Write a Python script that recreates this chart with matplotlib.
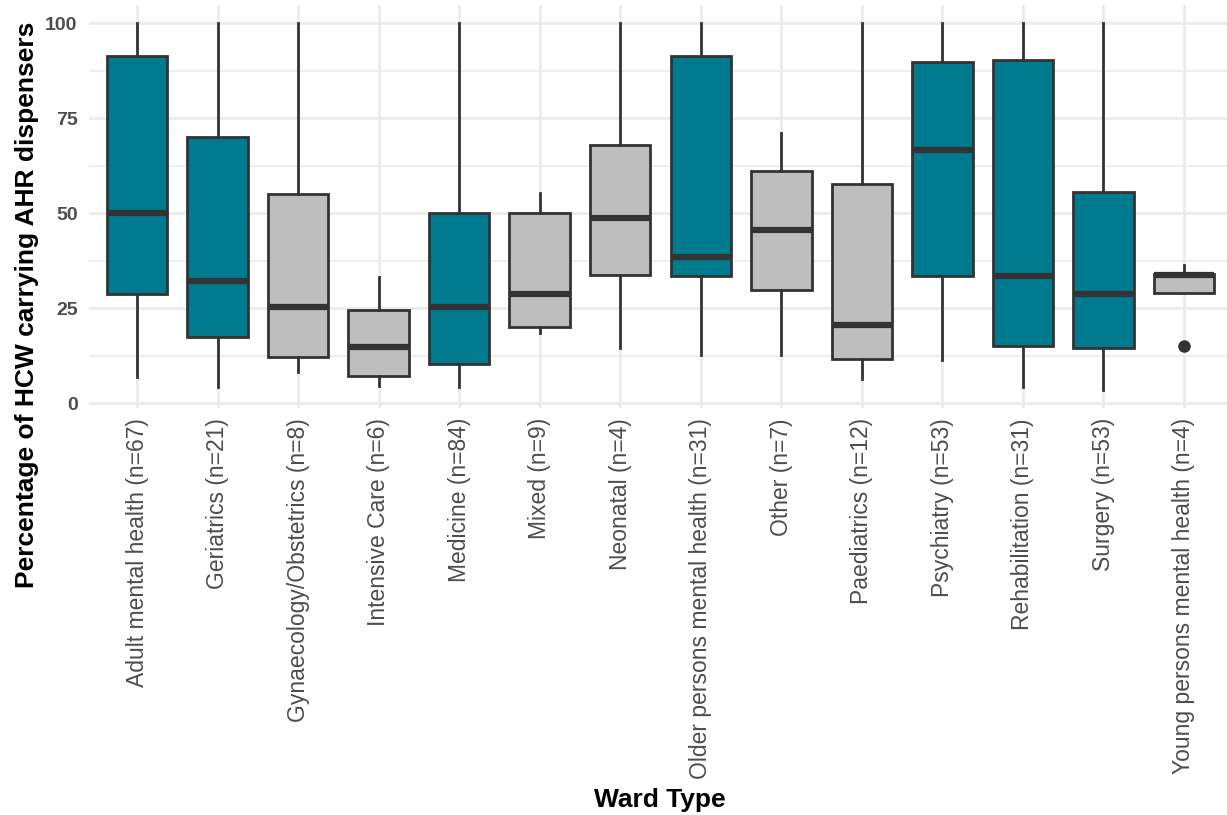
import matplotlib
matplotlib.use("Agg")
import matplotlib.pyplot as plt

plt.rcParams['font.family'] = ['Liberation Sans', 'DejaVu Sans']

categories = ["Adult mental health (n=67)", "Geriatrics (n=21)", "Gynaecology/Obstetrics (n=8)",
              "Intensive Care (n=6)", "Medicine (n=84)", "Mixed (n=9)", "Neonatal (n=4)",
              "Older persons mental health (n=31)", "Other (n=7)", "Paediatrics (n=12)",
              "Psychiatry (n=53)", "Rehabilitation (n=31)", "Surgery (n=53)",
              "Young persons mental health (n=4)"]
whisker_low = [7.0, 4.2, 8.1, 4.6, 4.2, 18.6, 14.5, 12.7, 12.7, 6.3, 11.4, 4.2, 3.5, 28.9]
q1 =          [28.8, 17.5, 12.3, 7.3, 10.3, 20.2, 33.7, 33.5, 29.8, 11.6, 33.5, 15.2, 14.5, 28.9]
median =      [50.0, 32.2, 25.4, 14.9, 25.3, 28.8, 48.7, 38.6, 45.6, 20.6, 66.7, 33.5, 28.7, 33.7]
q3 =          [91.4, 70.2, 55.1, 24.6, 50.0, 50.0, 67.9, 91.5, 61.2, 57.6, 89.9, 90.3, 55.5, 34.0]
whisker_high = [100, 100, 100, 33.3, 100, 55.4, 100, 100, 71.2, 100, 100, 100, 100, 36.4]
outliers = [[], [], [], [], [], [], [], [], [], [], [], [], [], [15.2]]
large_group = [True, True, False, False, True, False, False, True, False, False, True, True, True, False]

TEAL = "#007A8E"
GREY = "#BEBEBE"
EDGE = "#333333"

fig = plt.figure(figsize=(12.27, 8.15), dpi=100)
ax = fig.add_axes([88.7 / 1227, 1 - 408.3 / 815, (1232.3 - 88.7) / 1227, (408.3 - 5) / 815])

stats = []
for i in range(len(categories)):
    stats.append(dict(whislo=whisker_low[i], q1=q1[i], med=median[i], q3=q3[i],
                      whishi=whisker_high[i], fliers=outliers[i], label=categories[i]))

positions = list(range(1, len(categories) + 1))
bp = ax.bxp(stats, positions=positions, widths=0.75, patch_artist=True, showcaps=False,
            boxprops=dict(edgecolor=EDGE, linewidth=2.0),
            medianprops=dict(color=EDGE, linewidth=4.5, solid_capstyle='butt'),
            whiskerprops=dict(color=EDGE, linewidth=2.0),
            flierprops=dict(marker='o', markerfacecolor=EDGE, markeredgecolor=EDGE, markersize=8))
for patch, big in zip(bp['boxes'], large_group):
    patch.set_facecolor(TEAL if big else GREY)
for art in bp['boxes'] + bp['medians'] + bp['whiskers'] + bp['fliers']:
    art.set_zorder(3)

lo = min(whisker_low + sum(outliers, []))
hi = max(whisker_high)
pad = 0.05 * (hi - lo)
ax.set_ylim(lo - pad, hi + pad)
ax.set_xlim(0.4, len(categories) + 0.6)

ax.set_yticks([0, 25, 50, 75, 100])
ax.set_yticks([12.5, 37.5, 62.5, 87.5], minor=True)
ax.set_xticks(positions)
ax.set_xticklabels(categories, rotation=90, fontsize=16.5, color="#4D4D4D")
for lab in ax.get_yticklabels():
    lab.set_fontsize(14)
    lab.set_fontweight('bold')
    lab.set_color("#4D4D4D")

ax.tick_params(axis='both', which='both', length=0)
ax.tick_params(axis='x', pad=7)
ax.tick_params(axis='y', pad=8)

ax.grid(True, which='major', axis='both', color="#EBEBEB", linewidth=2.0, zorder=0)
ax.grid(True, which='minor', axis='y', color="#EBEBEB", linewidth=1.2, zorder=0)
ax.set_axisbelow(True)
for s in ax.spines.values():
    s.set_visible(False)

fig.text(660 / 1227, 1 - 800 / 815, "Ward Type", ha='center', va='center',
         fontsize=19, fontweight='bold', color='black')
fig.text(27 / 1227, 1 - 305 / 815, "Percentage of HCW carrying AHR dispensers", ha='center',
         va='center', rotation=90, fontsize=19, fontweight='bold', color='black')

fig.savefig("out.png", dpi=100, facecolor='white')
